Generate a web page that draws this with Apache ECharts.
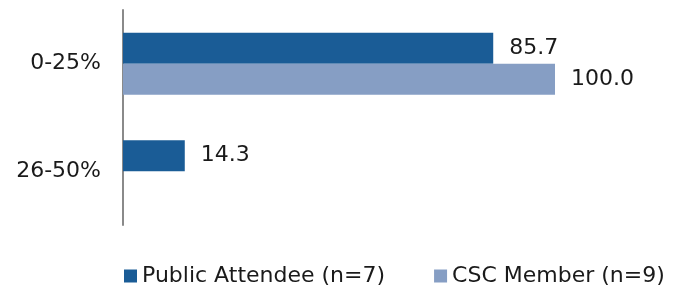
<!DOCTYPE html>
<html>
<head>
<meta charset="utf-8">
<script src="https://cdn.jsdelivr.net/npm/echarts@6/dist/echarts.min.js"></script>
<style>
  html, body { margin: 0; padding: 0; background: #fff; }
  #chart { width: 678px; height: 291px; }
</style>
</head>
<body>
<div id="chart"></div>
<script>
var categories = ['0-25%', '26-50%'];
var seriesNames = ['Public Attendee (n=7)', 'CSC Member (n=9)'];
var publicValues = [85.7, 14.3];
var cscValues = [100.0, '-'];

var font = "'DejaVu Sans', Verdana, sans-serif";
var chart = echarts.init(document.getElementById('chart'));

function barLabel() {
    return {
        show: true,
        position: 'right',
        distance: 16,
        color: '#1a1a1a',
        fontFamily: font,
        fontSize: 22,
        formatter: function (p) { return p.value.toFixed(1); }
    };
}

chart.setOption({
    animation: false,
    grid: { left: 123, right: 123, top: 10, bottom: 66 },
    legend: {
        data: seriesNames,
        left: 124,
        top: 265,
        padding: 0,
        itemWidth: 13,
        itemHeight: 13,
        itemGap: 49,
        icon: 'rect',
        textStyle: { fontFamily: font, fontSize: 22, color: '#1a1a1a' }
    },
    xAxis: {
        type: 'value',
        min: 0,
        max: 100,
        show: false
    },
    yAxis: {
        type: 'category',
        inverse: true,
        data: categories,
        axisLine: { lineStyle: { color: '#8a8a8a', width: 2 } },
        axisTick: { show: false },
        axisLabel: { fontFamily: font, fontSize: 22, color: '#1a1a1a', margin: 22 }
    },
    series: [
        {
            name: seriesNames[0],
            type: 'bar',
            data: publicValues,
            barWidth: 31,
            barGap: '0%',
            itemStyle: { color: '#1a5c96' },
            label: barLabel()
        },
        {
            name: seriesNames[1],
            type: 'bar',
            data: cscValues,
            barWidth: 31,
            barGap: '0%',
            itemStyle: { color: '#869ec4' },
            label: barLabel()
        }
    ]
});
</script>
</body>
</html>
